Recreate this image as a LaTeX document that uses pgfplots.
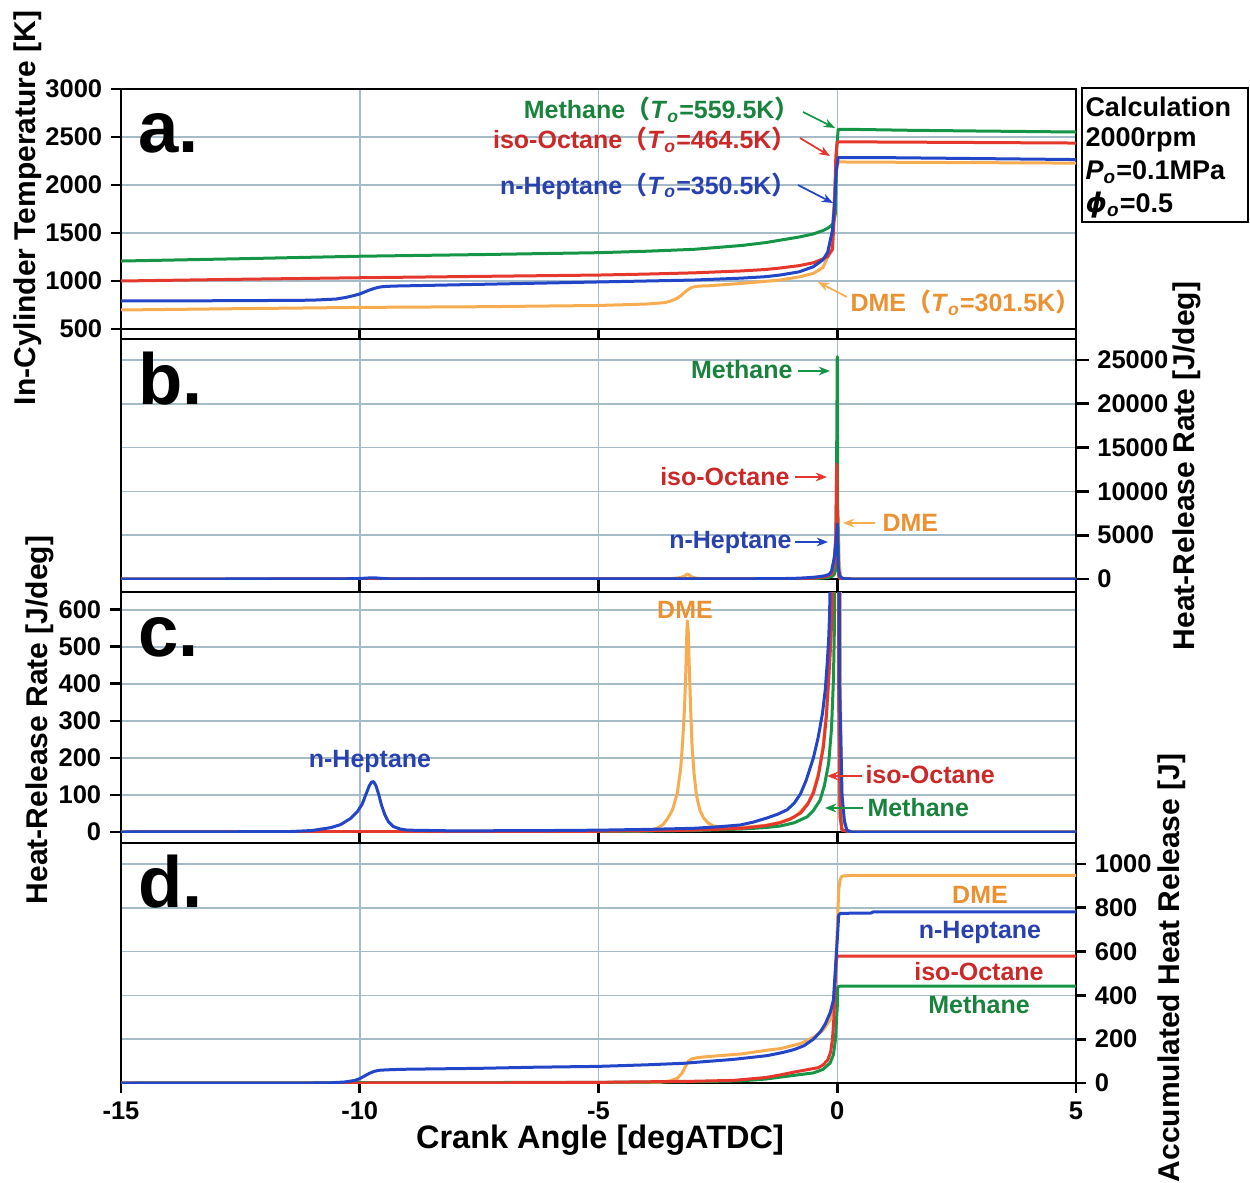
\documentclass[border=0pt]{standalone}
\usepackage{pgfplots}
\pgfplotsset{compat=1.18}
\usepackage{pgfplotstable}
\usepackage{fontspec}
\setmainfont{Liberation Sans}
\newfontfamily\cjk{Noto Sans CJK SC}
\newfontfamily\djv{DejaVu Sans}
\usetikzlibrary{arrows.meta}

\definecolor{cG}{RGB}{20,150,70}
\definecolor{cR}{RGB}{230,55,45}
\definecolor{cB}{RGB}{35,70,200}
\definecolor{cO}{RGB}{248,172,80}
\definecolor{tG}{RGB}{25,130,60}
\definecolor{tR}{RGB}{205,40,40}
\definecolor{tB}{RGB}{40,65,175}
\definecolor{tO}{RGB}{235,145,50}
\definecolor{gridc}{RGB}{165,188,200}

% ---------- Panel a: in-cylinder temperature ----------
\pgfplotstableread{
x y
-15 1208
-12.5 1232
-10 1258
-7.5 1275
-5 1295
-4 1310
-3 1330
-2 1370
-1.5 1400
-1.2 1425
-0.8 1458
-0.5 1490
-0.3 1525
-0.2 1550
-0.12 1580
-0.08 1605
-0.04 1700
-0.01 2400
0.02 2580
0.5 2578
1.5 2570
3 2562
5 2552
}\TMe
\pgfplotstableread{
x y
-15 1000
-12.5 1018
-10 1034
-7.5 1048
-5 1062
-4 1072
-3 1085
-2 1105
-1.5 1120
-1.2 1135
-0.8 1160
-0.5 1190
-0.3 1230
-0.2 1255
-0.1 1330
-0.06 1700
-0.03 2300
0.0 2450
2 2445
5 2437
}\TIo
\pgfplotstableread{
x y
-15 792
-12.5 795
-11 800
-10.5 812
-10.3 828
-10.15 845
-10 865
-9.9 885
-9.8 905
-9.7 922
-9.6 935
-9.5 942
-9.3 947
-9 950
-7.5 965
-5 990
-3 1010
-2 1030
-1.5 1045
-1.2 1062
-0.8 1095
-0.5 1149
-0.3 1220
-0.2 1300
-0.1 1530
-0.05 1850
-0.02 2150
0.02 2285
1 2285
3 2275
5 2265
}\THp
\pgfplotstableread{
x y
-15 698
-12.5 712
-10 725
-7.5 732
-5 745
-4 760
-3.6 775
-3.5 790
-3.42 805
-3.35 822
-3.28 845
-3.2 880
-3.12 912
-3.05 933
-2.95 944
-2.8 949
-2.7 950
-2 975
-1.2 1010
-0.77 1045
-0.5 1080
-0.3 1140
-0.2 1250
-0.12 1400
-0.08 1700
-0.04 2100
0.02 2240
2 2235
5 2228
}\TDm

% ---------- Heat-release rate (panels b and c) ----------
\pgfplotstableread{
x y
-15 0
-5 1
-3 4
-2 8
-1.5 12
-1.2 16
-0.9 25
-0.63 41
-0.5 58
-0.36 86
-0.27 125
-0.18 186
-0.12 280
-0.08 411
-0.06 550
-0.04 900
-0.03 2000
-0.01 16300
0.0 25400
0.01 8000
0.03 500
0.06 50
0.1 5
0.3 0
5 0
}\HMe
\pgfplotstableread{
x y
-15 0
-5 2
-3 5
-2 10
-1.5 17
-1.2 25
-1.0 34
-0.77 51
-0.62 75
-0.5 105
-0.4 150
-0.29 230
-0.23 310
-0.18 411
-0.14 500
-0.11 590
-0.07 1500
-0.03 5000
-0.01 13100
0.01 3000
0.03 400
0.06 40
0.1 5
0.3 0
5 0
}\HIo
\pgfplotstableread{
x y
-15 0
-11.5 1
-11.0 4
-10.6 12
-10.4 20
-10.2 36
-10.05 55
-9.95 75
-9.87 102
-9.8 125
-9.75 135
-9.71 136
-9.66 125
-9.6 100
-9.55 75
-9.48 48
-9.4 28
-9.3 15
-9.15 8
-9.0 5
-8 3
-6 4
-5 5
-4 7
-3 10
-2.5 14
-2.03 19
-1.75 27
-1.47 38
-1.25 48
-1.05 60
-0.9 78
-0.77 103
-0.65 140
-0.5 200
-0.4 255
-0.31 320
-0.25 385
-0.21 456
-0.18 520
-0.16 590
-0.12 900
-0.06 2500
-0.02 4500
0.0 6300
0.02 1500
0.05 400
0.1 100
0.15 30
0.2 5
0.3 0
5 0
}\HHp
\pgfplotstableread{
x y
-15 0
-5 1
-4.0 3
-3.8 8
-3.65 20
-3.56 35
-3.45 60
-3.35 105
-3.28 170
-3.24 240
-3.2 330
-3.17 440
-3.15 540
-3.14 570
-3.12 540
-3.1 450
-3.07 330
-3.04 230
-3.0 160
-2.95 100
-2.88 60
-2.8 38
-2.7 24
-2.59 16
-2.4 12
-2 12
-1.5 18
-1.2 26
-0.9 40
-0.77 55
-0.6 80
-0.5 110
-0.38 165
-0.3 230
-0.22 330
-0.18 420
-0.12 600
-0.06 1500
-0.02 4000
0.02 7100
0.04 2000
0.07 300
0.1 50
0.2 5
0.3 0
5 0
}\HDm

% ---------- Panel d: accumulated heat release ----------
\pgfplotstableread{
x y
-15 0
-12.5 0.5
-5 3
-3 6
-2 10
-1.5 18
-1.19 27
-0.8 38
-0.5 46
-0.3 62
-0.15 91
-0.08 130
-0.04 196
0.0 347
0.01 438
0.05 442
5 442
}\AMe
\pgfplotstableread{
x y
-15 0
-10 0
-7 1
-5 3
-3 8
-2.17 12
-1.5 25
-1.19 37
-0.9 50
-0.6 62
-0.4 70
-0.3 82
-0.2 105
-0.14 140
-0.1 200
-0.07 300
-0.04 470
-0.02 560
0.0 578
0.02 580
5 580
}\AIo
\pgfplotstableread{
x y
-15 0
-11 0
-10.6 1
-10.3 5
-10.1 12
-10.0 20
-9.9 32
-9.8 44
-9.7 53
-9.6 58
-9.45 60
-9.2 62
-9.0 63
-7.5 67
-6.36 72
-5 76
-4 83
-3.22 90
-2.17 108
-1.47 125
-1.13 140
-0.9 153
-0.7 170
-0.5 200
-0.35 235
-0.25 270
-0.15 320
-0.08 379
-0.03 550
0.0 653
0.03 767
0.06 774
0.1 775
0.7 776
0.75 781
5 781
}\AHp
\pgfplotstableread{
x y
-15 0
-4 0
-3.7 3
-3.5 10
-3.35 22
-3.25 45
-3.18 75
-3.12 100
-3.05 110
-2.95 115
-2.8 119
-2 133
-1.47 150
-1.19 157
-0.77 180
-0.5 208
-0.3 240
-0.15 288
-0.08 360
-0.04 502
0.0 700
0.03 881
0.06 930
0.1 945
0.3 948
5 948
}\ADm

\pgfplotsset{
  panel/.style={
    scale only axis, width=382pt, height=96pt,
    xmin=-15, xmax=5,
    xtick={-15,-10,-5,0,5},
    xticklabels={},
    scaled ticks=false,
    grid=major,
    major grid style={gridc, line width=0.6pt},
    axis line style={line width=1.1pt},
    every tick/.style={black, line width=1.1pt},
    tick align=outside,
    xtick pos=bottom,
    major tick length=4pt,
    tick label style={font=\bfseries\fontsize{10.2}{12}\selectfont},
    every axis plot/.append style={line width=1.2pt, no marks, line join=round},
    anchor=south west,
  },
}

\begin{document}
\begin{tikzpicture}
\useasboundingbox (0pt,0pt) rectangle (500pt,-473.2pt);

% Panel a
\begin{axis}[panel, at={(48.4pt,-131.6pt)},
  ymin=500, ymax=3000, ytick={500,1000,1500,2000,2500,3000},
  yticklabels={500,1000,1500,2000,2500,3000},
  ytick pos=left, major tick length=4pt]
\addplot[cO] table {\TDm};
\addplot[cG] table {\TMe};
\addplot[cR] table {\TIo};
\addplot[cB] table {\THp};
\end{axis}

% Panel b
\begin{axis}[panel, at={(48.4pt,-231.6pt)},
  ymin=0, ymax=27400, ytick={0,5000,10000,15000,20000,25000},
  yticklabels={0,5000,10000,15000,20000,25000},
  ytick pos=right, yticklabel pos=right, major tick length=5pt]
\addplot[cO] table {\HDm};
\addplot[cG] table {\HMe};
\addplot[cR] table {\HIo};
\addplot[cB] table {\HHp};
\end{axis}

% Panel c
\begin{axis}[panel, at={(48.4pt,-332.8pt)},
  ymin=0, ymax=648, ytick={0,100,200,300,400,500,600},
  yticklabels={0,100,200,300,400,500,600},
  ytick pos=left, major tick length=4.4pt]
\addplot[cO] table {\HDm};
\addplot[cG] table {\HMe};
\addplot[cR] table {\HIo};
\addplot[cB] table {\HHp};
\end{axis}

% Panel d
\begin{axis}[panel, at={(48.4pt,-433.2pt)},
  ymin=0, ymax=1096, ytick={0,200,400,600,800,1000},
  yticklabels={0,200,400,600,800,1000},
  xticklabels={-15,-10,-5,0,5},
  ytick pos=right, yticklabel pos=right, major tick length=4pt]
\addplot[cO] table {\ADm};
\addplot[cG] table {\AMe};
\addplot[cR] table {\AIo};
\addplot[cB] table {\AHp};
\end{axis}

% ---------- annotations (pixel units of the reference) ----------
\begin{scope}[x=0.4pt, y=-0.4pt, font=\bfseries,
  arr/.style={-{Stealth[length=4.5pt,width=3.5pt]}, line width=0.7pt}]
\def\lab{\fontsize{10}{12}\selectfont}
% axis titles
\node[rotate=90, font=\bfseries\fontsize{12}{14}\selectfont] at (28,208) {In-Cylinder Temperature [K]};
\node[rotate=90, font=\bfseries\fontsize{12}{14}\selectfont] at (40,720) {Heat-Release Rate [J/deg]};
\node[rotate=90, font=\bfseries\fontsize{12}{14}\selectfont] at (1187,466) {Heat-Release Rate [J/deg]};
\node[rotate=90, font=\bfseries\fontsize{12}{14}\selectfont] at (1172,968) {Accumulated Heat Release [J]};
\node[font=\bfseries\fontsize{13}{15}\selectfont] at (600,1140) {Crank Angle [degATDC]};

% panel letters
\node[anchor=base west, font=\bfseries\fontsize{29}{32}\selectfont, inner sep=0pt] at (138,153) {a.};
\node[anchor=base west, font=\bfseries\fontsize{29}{32}\selectfont, inner sep=0pt] at (138,405) {b.};
\node[anchor=base west, font=\bfseries\fontsize{29}{32}\selectfont, inner sep=0pt] at (138,657) {c.};
\node[anchor=base west, font=\bfseries\fontsize{29}{32}\selectfont, inner sep=0pt] at (138,908) {d.};

% panel a labels
\node[anchor=east, text=tG, inner sep=0pt] at (800,110) {\lab Methane{\cjk （}\textit{T}\textsubscript{\textit{o}}=559.5K{\cjk ）}};
\node[anchor=east, text=tR, inner sep=0pt] at (797,140) {\lab iso-Octane{\cjk （}\textit{T}\textsubscript{\textit{o}}=464.5K{\cjk ）}};
\node[anchor=east, text=tB, inner sep=0pt] at (797,186) {\lab n-Heptane{\cjk （}\textit{T}\textsubscript{\textit{o}}=350.5K{\cjk ）}};
\node[anchor=west, text=tO, inner sep=0pt] at (850,303) {\lab DME{\cjk （}\textit{T}\textsubscript{\textit{o}}=301.5K{\cjk ）}};
\draw[arr, cG] (803,112) -- (835,128);
\draw[arr, cR] (800,138) -- (830,156);
\draw[arr, cB] (798,185) -- (833,203);
\draw[arr, cO] (847,297) -- (818,282);

% panel b labels
\node[anchor=east, text=tG, inner sep=0pt] at (793,370) {\lab Methane};
\node[anchor=east, text=tR, inner sep=0pt] at (790,477) {\lab iso-Octane};
\node[anchor=east, text=tB, inner sep=0pt] at (792,542) {\lab n-Heptane};
\node[anchor=west, text=tO, inner sep=0pt] at (882,523) {\lab DME};
\draw[arr, cG] (798,371) -- (830,371);
\draw[arr, cR] (795,477) -- (827,477);
\draw[arr, cB] (795,542) -- (828,542);
\draw[arr, cO] (875,523) -- (843,523);

% panel c labels
\node[text=tO, inner sep=0pt] at (685,610) {\lab DME};
\node[text=tB, inner sep=0pt] at (370,761) {\lab n-Heptane};
\node[anchor=west, text=tR, inner sep=0pt] at (865,775) {\lab iso-Octane};
\node[anchor=west, text=tG, inner sep=0pt] at (867,808) {\lab Methane};
\draw[arr, cR] (862,776) -- (827,776);
\draw[arr, cG] (863,808) -- (825,808);

% panel d labels
\node[text=tO, inner sep=0pt] at (980,895) {\lab DME};
\node[text=tB, inner sep=0pt] at (980,932) {\lab n-Heptane};
\node[text=tR, inner sep=0pt] at (979,972) {\lab iso-Octane};
\node[text=tG, inner sep=0pt] at (979,1005) {\lab Methane};

% calculation box
\draw[line width=0.8pt] (1082,88) rectangle (1248,222);
\begin{scope}[font=\bfseries\fontsize{10.8}{13}\selectfont]
\node[anchor=west, inner sep=0pt] at (1085,107) {Calculation};
\node[anchor=west, inner sep=0pt] at (1085,140) {2000rpm};
\node[anchor=west, inner sep=0pt] at (1085,172) {\textit{P}\textsubscript{\textit{o}}=0.1MPa};
\node[anchor=west, inner sep=0pt] at (1085,205) {{\djv\bfseries\itshape ϕ}\textsubscript{\textit{o}}=0.5};
\end{scope}
\end{scope}
\end{tikzpicture}
\end{document}
